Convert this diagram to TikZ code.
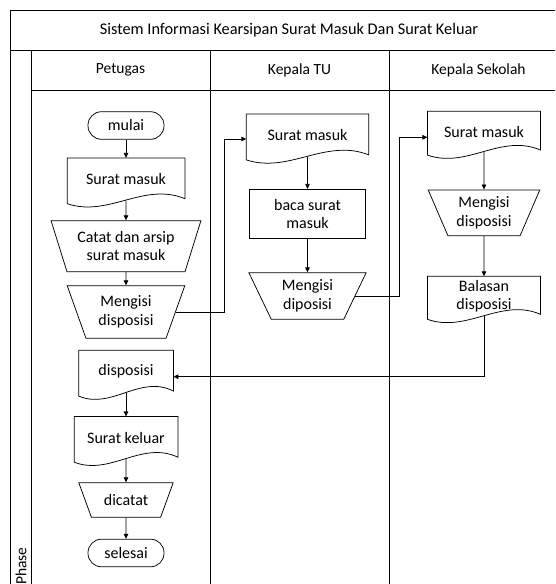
\documentclass[tikz,border=0pt]{standalone}
\usepackage{fontspec}
\setmainfont{Carlito}
\usetikzlibrary{arrows.meta,calc,shapes.geometric}
\newcommand{\shapefont}{\fontsize{16}{18.5}\selectfont}
\newcommand{\headfont}{\fontsize{15.5}{18}\selectfont}
\newcommand{\titlefont}{\fontsize{16.3}{19}\selectfont}
\newcommand{\docoutline}[1]{%
  \draw[frame] (#1.north west) -- (#1.north east) -- ($(#1.south east)+(0,-2)$)
    .. controls ($(#1.south west)!0.65!(#1.south east)+(0,-19)$) and ($(#1.south west)!0.35!(#1.south east)+(0,17)$) .. ($(#1.south west)+(0,3)$) -- cycle;}
\begin{document}
\begin{tikzpicture}[x=1pt,y=-1pt,
  frame/.style={line width=0.75pt, draw=black},
  base/.style={font=\shapefont, align=center, inner sep=2pt, line width=0.75pt},
  term/.style={base, draw, rectangle, rounded corners=13.5pt, minimum width=76pt, minimum height=27.6pt},
  proc/.style={base, draw, rectangle},
  docnode/.style={base, rectangle},
  man/.style={base, draw, trapezium, shape border rotate=180, trapezium stretches=true},
  arr/.style={line width=0.75pt, -{Triangle[length=5pt,width=4.5pt]}},
  head/.style={font=\headfont}]
\useasboundingbox (0,0) rectangle (555,584);
\clip (0,0) rectangle (555,584);
% swimlane frame
\draw[frame] (10,10) rectangle (568,600);
\draw[frame] (10,50) -- (568,50);
\draw[frame] (31,50) -- (31,600);
\draw[frame] (31,90) -- (568,90);
\draw[frame] (210,50) -- (210,600);
\draw[frame] (389,50) -- (389,600);
\node[font=\titlefont] (title) at (289,30) {Sistem Informasi Kearsipan Surat Masuk Dan Surat Keluar};
\node[head] (h1) at (120.5,70) {Petugas};
\node[head] (h2) at (299.5,70) {Kepala TU};
\node[head] (h3) at (478.5,70) {Kepala Sekolah};
\node[head, rotate=90] (phase) at (21,566) {Phase};
% Petugas
\node[term] (mulai) at (126,125.5) {mulai};
\node[docnode, minimum width=117pt, minimum height=42pt] (ps) at (126,179.3) {Surat masuk};
\node[man, minimum width=150pt, minimum height=51pt, trapezium angle=68] (catat) at (126,246.2) {Catat dan arsip\\surat masuk};
\node[man, minimum width=118pt, minimum height=52.6pt, trapezium angle=69] (pm) at (126,312) {Mengisi\\disposisi};
\node[docnode, minimum width=94pt, minimum height=42pt] (disp) at (126,371.7) {disposisi};
\node[docnode, minimum width=103pt, minimum height=42pt] (sk) at (126,437.8) {Surat keluar};
\node[man, minimum width=95pt, minimum height=34.6pt, trapezium angle=60] (dic) at (126,500) {dicatat};
\node[term] (sel) at (126,553) {selesai};
% Kepala TU
\node[docnode, minimum width=121.7pt, minimum height=42.2pt] (k1) at (307.5,135.4) {Surat masuk};
\node[proc, minimum width=116.4pt, minimum height=49pt] (k2) at (307.5,213.8) {baca surat\\masuk};
\node[man, minimum width=118.4pt, minimum height=46.6pt, trapezium angle=64.7] (k3) at (307.5,296) {Mengisi\\diposisi};
% Kepala Sekolah
\node[docnode, minimum width=112.3pt, minimum height=40pt] (s1) at (484,131.7) {Surat masuk};
\node[man, minimum width=112.3pt, minimum height=45.7pt, trapezium angle=66] (s2) at (484,212.8) {Mengisi\\disposisi};
\node[docnode, minimum width=112.3pt, minimum height=39.3pt] (s3) at (484,296.3) {Balasan\\disposisi};
% document outlines
\docoutline{ps}
\docoutline{disp}
\docoutline{sk}
\docoutline{k1}
\docoutline{s1}
\docoutline{s3}
% connectors
\coordinate (b1) at (224,0);
\coordinate (b2) at (399.3,0);
\draw[arr] (mulai) -- (ps);
\draw[arr] (ps.south) -- (catat.north);
\draw[arr] (catat.south) -- (pm.north);
\draw[arr] (disp.south) -- (sk.north);
\draw[arr] (sk.south) -- (dic.north);
\draw[arr] (dic.south) -- (sel.north);
\draw[arr] (k1.south) -- (k2.north);
\draw[arr] (k2.south) -- (k3.north);
\draw[arr] (s1.south) -- (s2.north);
\draw[arr] (s2.south) -- (s3.north);
\draw[arr] (pm.east) -- (pm.east -| b1) |- ($(k1.west)+(0,3.6)$);
\draw[arr] (k3.east) -- (k3.east -| b2) |- ($(s1.west)+(0,5.6)$);
\draw[arr] (s3.south) |- ($(disp.east)+(0,5)$);
\end{tikzpicture}
\end{document}
